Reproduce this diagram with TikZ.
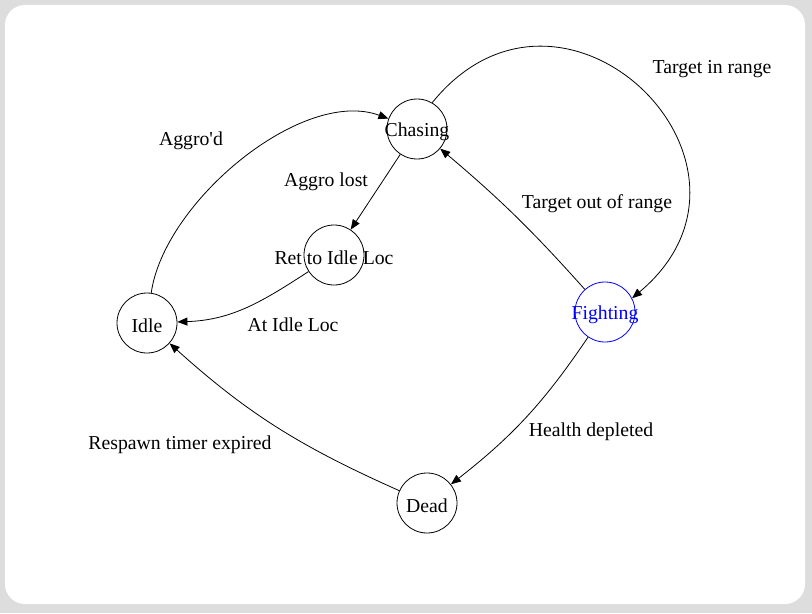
\documentclass[tikz,border=0pt]{standalone}
\usepackage{fontspec}
\setmainfont{Liberation Serif}
\usetikzlibrary{arrows.meta}
\definecolor{framegray}{HTML}{DDDDDD}
\newcommand{\stxt}[1]{\makebox[0pt]{\raisebox{-2pt}[\height][\depth]{#1}}}
\begin{document}
\begin{tikzpicture}[x=0.75pt,y=-0.75pt,
  state/.style={circle,draw=black,line width=0.6pt,minimum size=45pt,inner sep=0pt,font=\fontsize{14.8}{17}\selectfont},
  lbl/.style={font=\fontsize{14.8}{17}\selectfont,inner sep=0pt,yshift=-1.5pt},
  edge/.style={draw=black,line width=0.6pt,-{Triangle[length=7.5pt,width=6pt]}}]
\useasboundingbox (0,0) rectangle (812,613);
\fill[framegray] (0,0) rectangle (812,613);
\fill[white,rounded corners=15pt] (5,5) rectangle (805,604);

\node[state] (chasing) at (417,129) {\stxt{Chasing}};
\node[state] (ret) at (334,255) {\stxt{Ret to Idle Loc}};
\node[state] (idle) at (147,323) {\stxt{Idle}};
\node[state,draw=blue,text=blue] (fighting) at (605,312) {\stxt{Fighting}};
\node[state] (dead) at (427,503) {\stxt{Dead}};

\path[edge] (idle) to[out=82,in=160,looseness=0.8] (chasing);
\path[edge] (chasing.60) to[out=51,in=40,looseness=1.9] (fighting.27);
\path[edge] (fighting) to[bend right=4] (chasing);
\path[edge] (chasing) -- (ret);
\path[edge] (ret) to[out=213,in=2] (idle);
\path[edge] (fighting) to[out=236,in=38] (dead);
\path[edge] (dead) to[out=156,in=-42] (idle);

\node[lbl] (l1) at (191,139) {Aggro\textquotesingle d};
\node[lbl] (l2) at (712,67) {Target in range};
\node[lbl] (l3) at (597,202) {Target out of range};
\node[lbl] (l4) at (326,180) {Aggro lost};
\node[lbl] (l5) at (293,323) {At Idle Loc};
\node[lbl] (l6) at (591,430) {Health depleted};
\node[lbl] (l7) at (180,443) {Respawn timer expired};
\end{tikzpicture}
\end{document}
